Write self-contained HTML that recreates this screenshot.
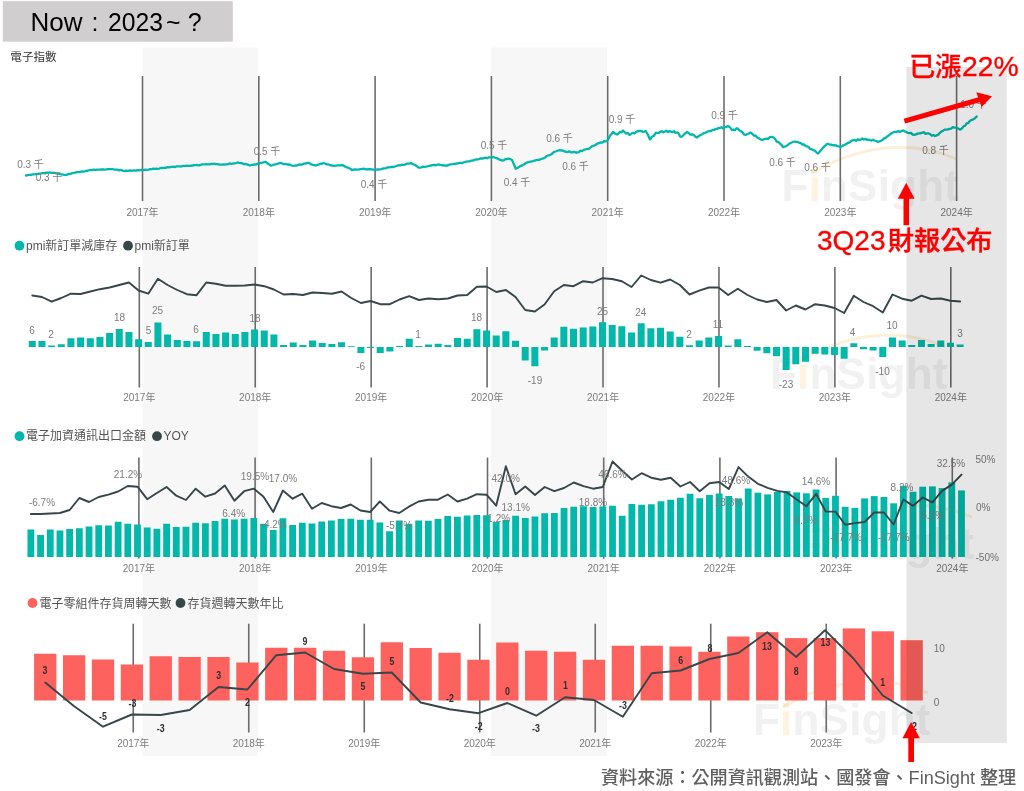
<!DOCTYPE html>
<html lang="zh-Hant"><head><meta charset="utf-8"><title>Now : 2023~ ?</title>
<style>
html,body{margin:0;padding:0;background:#fff;}
body{width:1024px;height:791px;overflow:hidden;}
svg{display:block;font-family:"Liberation Sans","Noto Sans CJK TC",sans-serif;}
</style></head><body>
<svg width="1024" height="791" viewBox="0 0 1024 791">
<rect x="142.5" y="47.5" width="115.4" height="708.5" fill="#f7f7f7"/>
<rect x="491" y="47.5" width="116" height="708.5" fill="#f7f7f7"/>
<rect x="2.8" y="1.2" width="230" height="40.5" fill="#d0cece"/>
<text id="title" y="30.9" font-size="25" fill="#000"><tspan x="30.5" textLength="52" lengthAdjust="spacingAndGlyphs">Now</tspan><tspan> </tspan><tspan x="91.4">:</tspan><tspan> </tspan><tspan x="108" textLength="55" lengthAdjust="spacingAndGlyphs">2023</tspan><tspan x="166" textLength="14.5" lengthAdjust="spacingAndGlyphs">~</tspan><tspan> </tspan><tspan x="187.7">?</tspan></text>
<text x="10.3" y="60.8" font-size="11.6" fill="#333" text-anchor="start">電子指數</text>
<g><text x="781.5" y="200.9" font-size="44" font-weight="bold" fill="#808080" fill-opacity="0.11" letter-spacing="0.2" text-anchor="start">F<tspan fill="#f5a623" fill-opacity="0.14">i</tspan>nSight</text><path d="M 811.5 172.9 Q 888.5 129.9 956.5 158.9" fill="none" stroke="#f5a623" stroke-opacity="0.17" stroke-width="3"/></g>
<g><text x="770" y="388.7" font-size="44" font-weight="bold" fill="#808080" fill-opacity="0.11" letter-spacing="0.2" text-anchor="start">F<tspan fill="#f5a623" fill-opacity="0.14">i</tspan>nSight</text><path d="M 800 360.7 Q 877 317.7 945 346.7" fill="none" stroke="#f5a623" stroke-opacity="0.17" stroke-width="3"/></g>
<g><text x="797" y="559" font-size="44" font-weight="bold" fill="#808080" fill-opacity="0.11" letter-spacing="0.2" text-anchor="start">F<tspan fill="#f5a623" fill-opacity="0.14">i</tspan>nSight</text><path d="M 827 531 Q 904 488 972 517" fill="none" stroke="#f5a623" stroke-opacity="0.17" stroke-width="3"/></g>
<g><text x="753" y="734.8" font-size="44" font-weight="bold" fill="#808080" fill-opacity="0.11" letter-spacing="0.2" text-anchor="start">F<tspan fill="#f5a623" fill-opacity="0.14">i</tspan>nSight</text><path d="M 783 706.8 Q 860 663.8 928 692.8" fill="none" stroke="#f5a623" stroke-opacity="0.17" stroke-width="3"/></g>
<line x1="142.5" y1="76" x2="142.5" y2="201" stroke="#6c6c6c" stroke-width="1.6"/>
<text x="142.5" y="216" font-size="10" fill="#7c7c7c" text-anchor="middle">2017年</text>
<line x1="258.8" y1="76" x2="258.8" y2="201" stroke="#6c6c6c" stroke-width="1.6"/>
<text x="258.8" y="216" font-size="10" fill="#7c7c7c" text-anchor="middle">2018年</text>
<line x1="375.1" y1="76" x2="375.1" y2="201" stroke="#6c6c6c" stroke-width="1.6"/>
<text x="375.1" y="216" font-size="10" fill="#7c7c7c" text-anchor="middle">2019年</text>
<line x1="491.4" y1="76" x2="491.4" y2="201" stroke="#6c6c6c" stroke-width="1.6"/>
<text x="491.4" y="216" font-size="10" fill="#7c7c7c" text-anchor="middle">2020年</text>
<line x1="607.7" y1="76" x2="607.7" y2="201" stroke="#6c6c6c" stroke-width="1.6"/>
<text x="607.7" y="216" font-size="10" fill="#7c7c7c" text-anchor="middle">2021年</text>
<line x1="724" y1="76" x2="724" y2="201" stroke="#6c6c6c" stroke-width="1.6"/>
<text x="724" y="216" font-size="10" fill="#7c7c7c" text-anchor="middle">2022年</text>
<line x1="840.3" y1="76" x2="840.3" y2="201" stroke="#6c6c6c" stroke-width="1.6"/>
<text x="840.3" y="216" font-size="10" fill="#7c7c7c" text-anchor="middle">2023年</text>
<line x1="956.6" y1="76" x2="956.6" y2="201" stroke="#6c6c6c" stroke-width="1.6"/>
<text x="956.6" y="216" font-size="10" fill="#7c7c7c" text-anchor="middle">2024年</text>
<polyline fill="none" stroke="#01b8aa" stroke-width="2.3" stroke-linejoin="round" stroke-linecap="round" points="26,175.5 27.64,175.19 29.29,174.89 30.93,174.94 32.57,174.42 34.21,174.45 35.86,174.14 37.5,174 39.06,173.56 40.62,173.63 42.19,173.18 43.75,173.21 45.31,172.82 46.88,172.64 48.44,172.64 50,172.5 51.6,172.9 53.2,172.67 54.8,172.93 56.4,173.38 58,173.5 59.75,174.14 61.5,174.29 63.25,174.56 65,175 66.67,174.87 68.33,173.99 70,174.04 71.67,173.35 73.33,172.89 75,172.7 76.59,172.22 78.18,172.09 79.77,172.16 81.36,171.52 82.95,171.52 84.55,171.31 86.14,170.9 87.73,170.77 89.32,170.22 90.91,169.98 92.5,170 94.04,169.72 95.58,169.97 97.12,169.72 98.65,169.56 100.19,169.68 101.73,169.51 103.27,169.32 104.81,169.59 106.35,169.45 107.88,169.05 109.42,169.21 110.96,169.09 112.5,169 114.06,169.53 115.62,169.67 117.19,169.59 118.75,170.35 120.31,169.97 121.88,170.44 123.44,170.94 125,171 126.59,170.68 128.18,170.81 129.77,170.42 131.36,170.75 132.95,170.72 134.55,170.5 136.14,170.61 137.73,170.15 139.32,170.31 140.91,170.15 142.5,170 144.04,169.9 145.58,169.66 147.12,169.78 148.65,169.7 150.19,169.21 151.73,169.19 153.27,168.62 154.81,168.91 156.35,168.72 157.88,168.81 159.42,168.53 160.96,168 162.5,168 164.06,167.77 165.62,167.84 167.19,167.2 168.75,167.4 170.31,167.03 171.88,166.84 173.44,166.66 175,167.06 176.56,166.42 178.12,166.37 179.69,166.34 181.25,166.56 182.81,165.81 184.38,165.95 185.94,165.88 187.5,165.7 189.06,165.92 190.62,165.76 192.19,165.69 193.75,165.09 195.31,165.1 196.88,164.94 198.44,165.28 200,165.24 201.56,164.45 203.12,164.36 204.69,164.31 206.25,164.2 207.81,164.31 209.38,164.29 210.94,163.91 212.5,164 214.06,163.62 215.62,164.05 217.19,164.07 218.75,164.31 220.31,164.72 221.88,164.55 223.44,164.45 225,164.5 226.56,164.35 228.12,164.16 229.69,163.36 231.25,163.85 232.81,163.5 234.38,163.33 235.94,163.01 237.5,162.5 239.06,162.77 240.62,163.15 242.19,163.25 243.75,164.13 245.31,163.96 246.88,164.34 248.44,164.85 250,165.5 251.5,164.96 253,164.86 254.5,164.37 256,164.5 257.67,163.64 259.33,163.36 261,162.9 262.67,162.71 264.33,162 266,162 267.67,163.6 269.33,164.58 271,165.7 272.67,164.95 274.33,164.59 276,164.22 277.67,163.79 279.33,163.13 281,163 282.56,163.7 284.12,164.21 285.69,164.09 287.25,164.48 288.81,164.49 290.38,164.88 291.94,165.48 293.5,166 295,165.5 296.5,165.67 298,164.82 299.5,164.4 301,164.88 302.5,164.22 304,163.61 305.5,163.64 307,162.91 308.5,163 310,163.53 311.5,164.45 313,164.84 314.5,165.18 316,165.5 317.5,164.8 319,164.39 320.5,163.72 322,163.73 323.5,163 325,163.53 326.5,164.26 328,164.34 329.5,164.74 331,165.5 332.57,165.69 334.14,165.77 335.71,165.59 337.29,165.47 338.86,165.41 340.43,165.28 342,165 343.67,165.6 345.33,166.68 347,167.37 348.67,167.93 350.33,168.76 352,170 353.64,169.66 355.29,169.46 356.93,169.58 358.57,169.58 360.21,169.03 361.86,169.19 363.5,168.7 365.14,169.25 366.79,169.41 368.43,169.16 370.07,169.24 371.71,169.43 373.36,169.59 375,170 376.6,169.49 378.2,169.49 379.8,169.38 381.4,169.04 383,168.49 384.6,168.31 386.2,168.11 387.8,167.31 389.4,167.41 391,167 392.54,167.02 394.08,166.61 395.62,166.28 397.15,165.75 398.69,165.2 400.23,165.39 401.77,164.71 403.31,164.78 404.85,164.61 406.38,163.84 407.92,163.54 409.46,163.67 411,163 412.5,164.11 414,164.49 415.5,165.35 417,166.27 418.5,167.5 420.04,167.59 421.58,167.28 423.12,166.53 424.65,166.83 426.19,166.72 427.73,166.24 429.27,165.77 430.81,165.69 432.35,165.13 433.88,164.81 435.42,165.33 436.96,164.85 438.5,164.5 440,164.72 441.5,165.28 443,165.04 444.5,165.63 446,165.5 447.59,165.5 449.18,164.71 450.77,164.47 452.36,164.23 453.95,163.92 455.55,163.94 457.14,163.39 458.73,163.25 460.32,162.73 461.91,163.12 463.5,162.5 465.06,161.99 466.62,161.71 468.19,161.45 469.75,161.38 471.31,160.55 472.88,160.65 474.44,159.88 476,159.5 477.59,159.31 479.18,159.07 480.77,158.31 482.36,158.53 483.95,158.03 485.55,157.62 487.14,158.22 488.73,157.34 490.32,157.43 491.91,157.46 493.5,157 495.2,157.76 496.9,158.2 498.6,159.12 500.3,159.86 502,160.5 503.62,160.34 505.25,159.2 506.88,159.21 508.5,158.7 510.25,159.08 512,160 513.85,164.12 515.7,168.7 517.31,168.02 518.93,166.93 520.54,166.09 522.16,165.35 523.77,164.58 525.39,163.34 527,162.5 528.5,162.23 530,161.75 531.5,161.37 533,161.16 534.5,160.55 536,160.25 537.5,159.82 539,159.88 540.5,159.27 542,158.7 543.6,158.29 545.2,157.54 546.8,155.98 548.4,155.48 550,155.08 551.6,154.15 553.2,152.57 554.8,151.73 556.4,151.26 558,150.5 559.61,150.1 561.22,150.51 562.83,150.47 564.44,151.46 566.05,151.79 567.65,152.13 569.26,151.31 570.87,152.25 572.48,152.35 574.09,151.84 575.7,152.5 577.31,152.49 578.93,152.1 580.54,150.64 582.16,151.08 583.77,149.87 585.39,149.48 587,149 588.56,148.94 590.12,147.97 591.69,146.28 593.25,145.9 594.81,145.27 596.38,144.27 597.94,143.32 599.5,143 601,142.31 602.5,142.56 604,141.03 605.5,141.49 607,141 608.5,138.65 610,135.7 611.5,133.97 613,132 615,133.49 617,134.5 618.5,133.52 620,131.68 621.5,132.41 623,130.5 624.62,132.2 626.25,133.69 627.88,133.08 629.5,135 631.17,133.9 632.83,132.81 634.5,133.52 636.17,131.9 637.83,130.98 639.5,131 641.05,130.84 642.6,131.82 644.15,131.64 645.7,131 647.85,134.77 650,139.5 651.9,136.73 653.8,135.89 655.7,133 657.23,132.91 658.77,132.94 660.3,131.54 661.83,131.26 663.37,132.25 664.9,131.52 666.43,130.62 667.97,132.07 669.5,131 671,131.57 672.5,132.2 674,131.07 675.5,132.91 677,132.5 678.5,133.15 680,136.21 681.5,137 683.33,135.25 685.17,133.38 687,132 688.67,133.02 690.33,134.67 692,134.29 693.67,134.94 695.33,136.64 697,137.5 698.56,136.22 700.12,135.18 701.69,134.46 703.25,133.45 704.81,132.91 706.38,132.29 707.94,131.46 709.5,131 711,131.17 712.5,129.88 714,129.95 715.5,128.96 717,128.94 718.5,127.94 720,128.05 721.5,127.23 723,128.32 724.5,127.5 726.25,126.85 728,126 730,127.38 732,130 733.5,129.62 735,130.22 736.5,128.24 738,128.7 739.54,130.6 741.08,131.08 742.62,132.47 744.16,134.41 745.7,135 747.37,133.97 749.03,133.35 750.7,132.5 752.31,133.94 753.93,135.58 755.54,135.41 757.16,137.43 758.77,138.26 760.39,139.19 762,140 763.67,139.4 765.33,138.87 767,138.7 768,138.8 770,137.02 772,136.8 773.57,137.59 775.14,138.94 776.71,141.61 778.29,142.19 779.86,143.48 781.43,144.79 783,147 784.63,146.71 786.26,145.97 787.89,144.89 789.51,143.54 791.14,142.69 792.77,141.98 794.4,141.5 796,141.9 797.6,141.87 799.2,142.81 800.8,142.98 802.4,144.6 804,144.3 805.56,146.06 807.11,146.42 808.67,146.97 810.22,149.11 811.78,149.11 813.33,150.21 814.89,150.68 816.44,152.29 818,153.5 819.68,151.63 821.36,149.82 823.04,147.61 824.72,146.15 826.4,144.3 827.94,143.83 829.49,144.53 831.03,144.56 832.58,145.34 834.12,145.09 835.67,145.36 837.21,146.1 838.76,146.28 840.3,147 841.9,146.23 843.5,145.24 845.1,144.67 846.7,143.63 848.3,142.82 849.9,142.16 851.5,140.7 853.04,140.3 854.59,139.99 856.13,140.88 857.68,139.27 859.22,140.02 860.77,139.67 862.31,138.46 863.86,139.57 865.4,138.8 866.94,139.78 868.49,139.62 870.03,140.11 871.58,140.54 873.12,139.67 874.67,140.64 876.21,140.91 877.76,141.78 879.3,141.5 880.89,140.93 882.47,139.9 884.06,138.42 885.64,137.86 887.23,136.44 888.81,135.39 890.4,134 891.98,133.04 893.55,132.21 895.12,131.95 896.7,131.94 898.27,131 899.85,131.94 901.42,130.96 903,130.4 904.62,131.36 906.23,132.05 907.85,132.86 909.47,133.18 911.08,132.91 912.7,134.6 914.32,134.83 915.93,134.4 917.55,133.61 919.17,133.33 920.78,133.23 922.4,132.6 923.98,132.18 925.55,133.91 927.12,133.39 928.7,133.47 930.27,134.27 931.85,135.6 933.42,135 935,136 936.62,135.37 938.23,134.74 939.85,132.79 941.47,131.52 943.08,130.63 944.7,129.6 946.32,129.63 947.93,129.47 949.55,128.83 951.17,128.55 952.78,127.09 954.4,127.6 956.27,127.56 958.13,128.44 960,129.6 961.66,128.77 963.32,126.57 964.98,125.78 966.64,123.34 968.3,123 969.98,120.82 971.66,119.94 973.34,119.44 975.02,118.18 976.7,116.5"/>
<text x="30.5" y="167.5" font-size="10" fill="#7c7c7c" text-anchor="middle">0.3 千</text>
<text x="49" y="180.5" font-size="10" fill="#7c7c7c" text-anchor="middle">0.3 千</text>
<text x="267" y="154.5" font-size="10" fill="#7c7c7c" text-anchor="middle">0.5 千</text>
<text x="374" y="187.5" font-size="10" fill="#7c7c7c" text-anchor="middle">0.4 千</text>
<text x="494" y="148.5" font-size="10" fill="#7c7c7c" text-anchor="middle">0.5 千</text>
<text x="517" y="186" font-size="10" fill="#7c7c7c" text-anchor="middle">0.4 千</text>
<text x="559.5" y="142" font-size="10" fill="#7c7c7c" text-anchor="middle">0.6 千</text>
<text x="575.5" y="169.5" font-size="10" fill="#7c7c7c" text-anchor="middle">0.6 千</text>
<text x="622" y="122.5" font-size="10" fill="#7c7c7c" text-anchor="middle">0.9 千</text>
<text x="724.5" y="118.5" font-size="10" fill="#7c7c7c" text-anchor="middle">0.9 千</text>
<text x="782.5" y="166" font-size="10" fill="#7c7c7c" text-anchor="middle">0.6 千</text>
<text x="817.5" y="170.5" font-size="10" fill="#7c7c7c" text-anchor="middle">0.6 千</text>
<text x="935.5" y="153.5" font-size="10" fill="#7c7c7c" text-anchor="middle">0.8 千</text>
<text x="973.5" y="107.5" font-size="10" fill="#7c7c7c" text-anchor="middle">1.0 千</text>
<circle cx="19.5" cy="245.7" r="4.9" fill="#01b8aa"/>
<text x="26" y="249.7" font-size="12" fill="#555" text-anchor="start">pmi新訂單減庫存</text>
<circle cx="128" cy="245.7" r="4.9" fill="#374649"/>
<text x="134.5" y="249.7" font-size="12" fill="#555" text-anchor="start">pmi新訂單</text>
<line x1="139.3" y1="267" x2="139.3" y2="387.5" stroke="#6c6c6c" stroke-width="1.6"/>
<text x="139.3" y="401" font-size="10" fill="#7c7c7c" text-anchor="middle">2017年</text>
<line x1="255.23" y1="267" x2="255.23" y2="387.5" stroke="#6c6c6c" stroke-width="1.6"/>
<text x="255.23" y="401" font-size="10" fill="#7c7c7c" text-anchor="middle">2018年</text>
<line x1="371.16" y1="267" x2="371.16" y2="387.5" stroke="#6c6c6c" stroke-width="1.6"/>
<text x="371.16" y="401" font-size="10" fill="#7c7c7c" text-anchor="middle">2019年</text>
<line x1="487.09" y1="267" x2="487.09" y2="387.5" stroke="#6c6c6c" stroke-width="1.6"/>
<text x="487.09" y="401" font-size="10" fill="#7c7c7c" text-anchor="middle">2020年</text>
<line x1="603.02" y1="267" x2="603.02" y2="387.5" stroke="#6c6c6c" stroke-width="1.6"/>
<text x="603.02" y="401" font-size="10" fill="#7c7c7c" text-anchor="middle">2021年</text>
<line x1="718.95" y1="267" x2="718.95" y2="387.5" stroke="#6c6c6c" stroke-width="1.6"/>
<text x="718.95" y="401" font-size="10" fill="#7c7c7c" text-anchor="middle">2022年</text>
<line x1="834.88" y1="267" x2="834.88" y2="387.5" stroke="#6c6c6c" stroke-width="1.6"/>
<text x="834.88" y="401" font-size="10" fill="#7c7c7c" text-anchor="middle">2023年</text>
<line x1="950.81" y1="267" x2="950.81" y2="387.5" stroke="#6c6c6c" stroke-width="1.6"/>
<text x="950.81" y="401" font-size="10" fill="#7c7c7c" text-anchor="middle">2024年</text>
<rect x="28.78" y="341" width="7" height="6" fill="#01b8aa"/>
<rect x="38.45" y="341" width="7" height="6" fill="#01b8aa"/>
<rect x="48.12" y="345.5" width="7" height="1.5" fill="#01b8aa"/>
<rect x="57.78" y="344.25" width="7" height="2.75" fill="#01b8aa"/>
<rect x="67.44" y="338.25" width="7" height="8.75" fill="#01b8aa"/>
<rect x="77.11" y="337.5" width="7" height="9.5" fill="#01b8aa"/>
<rect x="86.78" y="338.25" width="7" height="8.75" fill="#01b8aa"/>
<rect x="96.44" y="337" width="7" height="10" fill="#01b8aa"/>
<rect x="106.1" y="333" width="7" height="14" fill="#01b8aa"/>
<rect x="115.77" y="329" width="7" height="18" fill="#01b8aa"/>
<rect x="125.44" y="332" width="7" height="15" fill="#01b8aa"/>
<rect x="135.1" y="339.25" width="7" height="7.75" fill="#01b8aa"/>
<rect x="144.76" y="342" width="7" height="5" fill="#01b8aa"/>
<rect x="154.43" y="322.5" width="7" height="24.5" fill="#01b8aa"/>
<rect x="164.09" y="334.5" width="7" height="12.5" fill="#01b8aa"/>
<rect x="173.76" y="340" width="7" height="7" fill="#01b8aa"/>
<rect x="183.42" y="341" width="7" height="6" fill="#01b8aa"/>
<rect x="193.09" y="341.25" width="7" height="5.75" fill="#01b8aa"/>
<rect x="202.75" y="332" width="7" height="15" fill="#01b8aa"/>
<rect x="212.42" y="334" width="7" height="13" fill="#01b8aa"/>
<rect x="222.08" y="332.5" width="7" height="14.5" fill="#01b8aa"/>
<rect x="231.75" y="334" width="7" height="13" fill="#01b8aa"/>
<rect x="241.41" y="332" width="7" height="15" fill="#01b8aa"/>
<rect x="251.08" y="329.5" width="7" height="17.5" fill="#01b8aa"/>
<rect x="260.75" y="330.5" width="7" height="16.5" fill="#01b8aa"/>
<rect x="270.41" y="334.5" width="7" height="12.5" fill="#01b8aa"/>
<rect x="280.07" y="345" width="7" height="2" fill="#01b8aa"/>
<rect x="289.74" y="342.5" width="7" height="4.5" fill="#01b8aa"/>
<rect x="299.4" y="345" width="7" height="2" fill="#01b8aa"/>
<rect x="309.07" y="340.5" width="7" height="6.5" fill="#01b8aa"/>
<rect x="318.74" y="343" width="7" height="4" fill="#01b8aa"/>
<rect x="328.4" y="344" width="7" height="3" fill="#01b8aa"/>
<rect x="338.06" y="342.25" width="7" height="4.75" fill="#01b8aa"/>
<rect x="347.73" y="346.2" width="7" height="0.8" fill="#01b8aa"/>
<rect x="357.39" y="347" width="7" height="6" fill="#01b8aa"/>
<rect x="367.06" y="347" width="7" height="1" fill="#01b8aa"/>
<rect x="376.72" y="347" width="7" height="6" fill="#01b8aa"/>
<rect x="386.39" y="347" width="7" height="4.5" fill="#01b8aa"/>
<rect x="396.05" y="346" width="7" height="1" fill="#01b8aa"/>
<rect x="405.72" y="338.75" width="7" height="8.25" fill="#01b8aa"/>
<rect x="415.38" y="346" width="7" height="1" fill="#01b8aa"/>
<rect x="425.05" y="344.5" width="7" height="2.5" fill="#01b8aa"/>
<rect x="434.71" y="343.75" width="7" height="3.25" fill="#01b8aa"/>
<rect x="444.38" y="345" width="7" height="2" fill="#01b8aa"/>
<rect x="454.04" y="338" width="7" height="9" fill="#01b8aa"/>
<rect x="463.71" y="338.75" width="7" height="8.25" fill="#01b8aa"/>
<rect x="473.38" y="329.25" width="7" height="17.75" fill="#01b8aa"/>
<rect x="483.04" y="330.5" width="7" height="16.5" fill="#01b8aa"/>
<rect x="492.7" y="335.5" width="7" height="11.5" fill="#01b8aa"/>
<rect x="502.37" y="331.25" width="7" height="15.75" fill="#01b8aa"/>
<rect x="512.03" y="340.75" width="7" height="6.25" fill="#01b8aa"/>
<rect x="521.7" y="347" width="7" height="13.5" fill="#01b8aa"/>
<rect x="531.37" y="347" width="7" height="19.25" fill="#01b8aa"/>
<rect x="541.03" y="347" width="7" height="3.5" fill="#01b8aa"/>
<rect x="550.69" y="337.5" width="7" height="9.5" fill="#01b8aa"/>
<rect x="560.36" y="326.75" width="7" height="20.25" fill="#01b8aa"/>
<rect x="570.02" y="328.75" width="7" height="18.25" fill="#01b8aa"/>
<rect x="579.69" y="327.5" width="7" height="19.5" fill="#01b8aa"/>
<rect x="589.35" y="326.5" width="7" height="20.5" fill="#01b8aa"/>
<rect x="599.02" y="322.25" width="7" height="24.75" fill="#01b8aa"/>
<rect x="608.68" y="325" width="7" height="22" fill="#01b8aa"/>
<rect x="618.35" y="326.25" width="7" height="20.75" fill="#01b8aa"/>
<rect x="628.01" y="332.5" width="7" height="14.5" fill="#01b8aa"/>
<rect x="637.68" y="323.25" width="7" height="23.75" fill="#01b8aa"/>
<rect x="647.35" y="328.25" width="7" height="18.75" fill="#01b8aa"/>
<rect x="657.01" y="327.75" width="7" height="19.25" fill="#01b8aa"/>
<rect x="666.67" y="331.5" width="7" height="15.5" fill="#01b8aa"/>
<rect x="676.34" y="336.75" width="7" height="10.25" fill="#01b8aa"/>
<rect x="686" y="345.25" width="7" height="1.75" fill="#01b8aa"/>
<rect x="695.67" y="340.5" width="7" height="6.5" fill="#01b8aa"/>
<rect x="705.33" y="337.5" width="7" height="9.5" fill="#01b8aa"/>
<rect x="715" y="336" width="7" height="11" fill="#01b8aa"/>
<rect x="724.66" y="345.5" width="7" height="1.5" fill="#01b8aa"/>
<rect x="734.33" y="339.25" width="7" height="7.75" fill="#01b8aa"/>
<rect x="744" y="346" width="7" height="1" fill="#01b8aa"/>
<rect x="753.66" y="347" width="7" height="3.75" fill="#01b8aa"/>
<rect x="763.32" y="347" width="7" height="6.25" fill="#01b8aa"/>
<rect x="772.99" y="347" width="7" height="9.25" fill="#01b8aa"/>
<rect x="782.65" y="347" width="7" height="23" fill="#01b8aa"/>
<rect x="792.32" y="347" width="7" height="17.25" fill="#01b8aa"/>
<rect x="801.99" y="347" width="7" height="14.75" fill="#01b8aa"/>
<rect x="811.65" y="347" width="7" height="6.75" fill="#01b8aa"/>
<rect x="821.31" y="347" width="7" height="7.5" fill="#01b8aa"/>
<rect x="830.98" y="347" width="7" height="8" fill="#01b8aa"/>
<rect x="840.64" y="347" width="7" height="11.75" fill="#01b8aa"/>
<rect x="850.31" y="343.25" width="7" height="3.75" fill="#01b8aa"/>
<rect x="859.97" y="347" width="7" height="2.25" fill="#01b8aa"/>
<rect x="869.64" y="347" width="7" height="3.5" fill="#01b8aa"/>
<rect x="879.3" y="347" width="7" height="10" fill="#01b8aa"/>
<rect x="888.97" y="337.5" width="7" height="9.5" fill="#01b8aa"/>
<rect x="898.63" y="340.5" width="7" height="6.5" fill="#01b8aa"/>
<rect x="908.3" y="345" width="7" height="2" fill="#01b8aa"/>
<rect x="917.96" y="340" width="7" height="7" fill="#01b8aa"/>
<rect x="927.63" y="344" width="7" height="3" fill="#01b8aa"/>
<rect x="937.29" y="340.5" width="7" height="6.5" fill="#01b8aa"/>
<rect x="946.96" y="342.75" width="7" height="4.25" fill="#01b8aa"/>
<rect x="956.62" y="344.5" width="7" height="2.5" fill="#01b8aa"/>
<polyline fill="none" stroke="#374649" stroke-width="1.9" stroke-linejoin="round" stroke-linecap="round" points="32.28,295.5 41.95,297 51.62,301.7 61.28,298 70.94,293.7 80.61,294 90.28,291.5 99.94,289.2 109.6,287.5 119.27,285 128.94,282.5 138.6,290.5 148.26,293.7 157.93,278.7 167.59,285 177.26,290 186.92,294.2 196.59,295.2 206.25,282.5 215.92,283.7 225.58,285.7 235.25,285.7 244.91,285.5 254.58,284.5 264.25,286.2 273.91,289.5 283.57,294.5 293.24,294 302.9,295 312.57,292.5 322.24,293 331.9,293.7 341.56,291.5 351.23,298 360.89,303 370.56,301 380.22,304.2 389.89,304.2 399.55,299.5 409.22,296.2 418.88,300 428.55,298.5 438.21,299.2 447.88,298.5 457.54,295.5 467.21,295 476.88,286.7 486.54,286.5 496.2,292 505.87,290 515.53,297 525.2,310 534.87,311.5 544.53,304.5 554.19,291.2 563.86,285 573.52,286.2 583.19,281.2 592.85,282.5 602.52,278.2 612.18,279 621.85,281.2 631.51,287 641.18,275.5 650.85,280 660.51,282.7 670.17,279.5 679.84,285 689.5,294.5 699.17,290.7 708.83,287.5 718.5,287.5 728.16,295 737.83,288.7 747.5,295 757.16,299.5 766.82,302 776.49,300 786.15,310.5 795.82,305.5 805.49,309.5 815.15,304.2 824.81,305.5 834.48,308 844.14,313 853.81,295.7 863.47,302 873.14,306.2 882.8,312.5 892.47,294.5 902.13,298.7 911.8,300.7 921.46,295.7 931.13,299 940.79,298.5 950.46,300.7 960.12,301.5"/>
<text x="32" y="333.5" font-size="10" fill="#7c7c7c" text-anchor="middle">6</text>
<text x="51" y="337.5" font-size="10" fill="#7c7c7c" text-anchor="middle">2</text>
<text x="119.5" y="321" font-size="10" fill="#7c7c7c" text-anchor="middle">18</text>
<text x="148.5" y="333.5" font-size="10" fill="#7c7c7c" text-anchor="middle">5</text>
<text x="157.5" y="314" font-size="10" fill="#7c7c7c" text-anchor="middle">25</text>
<text x="196" y="332.5" font-size="10" fill="#7c7c7c" text-anchor="middle">6</text>
<text x="255" y="321.5" font-size="10" fill="#7c7c7c" text-anchor="middle">18</text>
<text x="360.7" y="369.5" font-size="10" fill="#7c7c7c" text-anchor="middle">-6</text>
<text x="418" y="338" font-size="10" fill="#7c7c7c" text-anchor="middle">1</text>
<text x="476.5" y="320.5" font-size="10" fill="#7c7c7c" text-anchor="middle">18</text>
<text x="535" y="383.5" font-size="10" fill="#7c7c7c" text-anchor="middle">-19</text>
<text x="602.5" y="314.5" font-size="10" fill="#7c7c7c" text-anchor="middle">25</text>
<text x="640.7" y="315.5" font-size="10" fill="#7c7c7c" text-anchor="middle">24</text>
<text x="689" y="338" font-size="10" fill="#7c7c7c" text-anchor="middle">2</text>
<text x="718" y="328" font-size="10" fill="#7c7c7c" text-anchor="middle">11</text>
<text x="786" y="388" font-size="10" fill="#7c7c7c" text-anchor="middle">-23</text>
<text x="852.5" y="335.5" font-size="10" fill="#7c7c7c" text-anchor="middle">4</text>
<text x="882.5" y="374.5" font-size="10" fill="#7c7c7c" text-anchor="middle">-10</text>
<text x="892" y="329" font-size="10" fill="#7c7c7c" text-anchor="middle">10</text>
<text x="960" y="336.5" font-size="10" fill="#7c7c7c" text-anchor="middle">3</text>
<circle cx="19.5" cy="436.2" r="4.9" fill="#01b8aa"/>
<text x="26" y="440.2" font-size="12" fill="#555" text-anchor="start">電子加資通訊出口金額</text>
<circle cx="157" cy="436.2" r="4.9" fill="#374649"/>
<text x="163.5" y="440.2" font-size="12" fill="#555" text-anchor="start">YOY</text>
<line x1="138.9" y1="457.5" x2="138.9" y2="558.6" stroke="#6c6c6c" stroke-width="1.6"/>
<text x="138.9" y="571.5" font-size="10" fill="#7c7c7c" text-anchor="middle">2017年</text>
<line x1="255.1" y1="457.5" x2="255.1" y2="558.6" stroke="#6c6c6c" stroke-width="1.6"/>
<text x="255.1" y="571.5" font-size="10" fill="#7c7c7c" text-anchor="middle">2018年</text>
<line x1="371.3" y1="457.5" x2="371.3" y2="558.6" stroke="#6c6c6c" stroke-width="1.6"/>
<text x="371.3" y="571.5" font-size="10" fill="#7c7c7c" text-anchor="middle">2019年</text>
<line x1="487.5" y1="457.5" x2="487.5" y2="558.6" stroke="#6c6c6c" stroke-width="1.6"/>
<text x="487.5" y="571.5" font-size="10" fill="#7c7c7c" text-anchor="middle">2020年</text>
<line x1="603.7" y1="457.5" x2="603.7" y2="558.6" stroke="#6c6c6c" stroke-width="1.6"/>
<text x="603.7" y="571.5" font-size="10" fill="#7c7c7c" text-anchor="middle">2021年</text>
<line x1="719.9" y1="457.5" x2="719.9" y2="558.6" stroke="#6c6c6c" stroke-width="1.6"/>
<text x="719.9" y="571.5" font-size="10" fill="#7c7c7c" text-anchor="middle">2022年</text>
<line x1="836.1" y1="457.5" x2="836.1" y2="558.6" stroke="#6c6c6c" stroke-width="1.6"/>
<text x="836.1" y="571.5" font-size="10" fill="#7c7c7c" text-anchor="middle">2023年</text>
<line x1="952.3" y1="457.5" x2="952.3" y2="558.6" stroke="#6c6c6c" stroke-width="1.6"/>
<text x="952.3" y="571.5" font-size="10" fill="#7c7c7c" text-anchor="middle">2024年</text>
<rect x="27.47" y="529.5" width="6.8" height="27.5" fill="#01b8aa"/>
<rect x="37.16" y="535" width="6.8" height="22" fill="#01b8aa"/>
<rect x="46.85" y="529.5" width="6.8" height="27.5" fill="#01b8aa"/>
<rect x="56.55" y="530.5" width="6.8" height="26.5" fill="#01b8aa"/>
<rect x="66.24" y="529" width="6.8" height="28" fill="#01b8aa"/>
<rect x="75.94" y="528.25" width="6.8" height="28.75" fill="#01b8aa"/>
<rect x="85.63" y="526.5" width="6.8" height="30.5" fill="#01b8aa"/>
<rect x="95.32" y="525.25" width="6.8" height="31.75" fill="#01b8aa"/>
<rect x="105.02" y="525.5" width="6.8" height="31.5" fill="#01b8aa"/>
<rect x="114.71" y="521.75" width="6.8" height="35.25" fill="#01b8aa"/>
<rect x="124.41" y="523.75" width="6.8" height="33.25" fill="#01b8aa"/>
<rect x="134.1" y="524.5" width="6.8" height="32.5" fill="#01b8aa"/>
<rect x="143.79" y="527.5" width="6.8" height="29.5" fill="#01b8aa"/>
<rect x="153.49" y="528.75" width="6.8" height="28.25" fill="#01b8aa"/>
<rect x="163.18" y="523.75" width="6.8" height="33.25" fill="#01b8aa"/>
<rect x="172.88" y="527" width="6.8" height="30" fill="#01b8aa"/>
<rect x="182.57" y="526.75" width="6.8" height="30.25" fill="#01b8aa"/>
<rect x="192.26" y="522.75" width="6.8" height="34.25" fill="#01b8aa"/>
<rect x="201.96" y="523.25" width="6.8" height="33.75" fill="#01b8aa"/>
<rect x="211.65" y="521" width="6.8" height="36" fill="#01b8aa"/>
<rect x="221.35" y="518.75" width="6.8" height="38.25" fill="#01b8aa"/>
<rect x="231.04" y="519.5" width="6.8" height="37.5" fill="#01b8aa"/>
<rect x="240.73" y="518.75" width="6.8" height="38.25" fill="#01b8aa"/>
<rect x="250.43" y="518" width="6.8" height="39" fill="#01b8aa"/>
<rect x="260.12" y="523.75" width="6.8" height="33.25" fill="#01b8aa"/>
<rect x="269.82" y="530" width="6.8" height="27" fill="#01b8aa"/>
<rect x="279.51" y="518.25" width="6.8" height="38.75" fill="#01b8aa"/>
<rect x="289.2" y="525" width="6.8" height="32" fill="#01b8aa"/>
<rect x="298.9" y="522.75" width="6.8" height="34.25" fill="#01b8aa"/>
<rect x="308.59" y="523.5" width="6.8" height="33.5" fill="#01b8aa"/>
<rect x="318.29" y="521.5" width="6.8" height="35.5" fill="#01b8aa"/>
<rect x="327.98" y="520.5" width="6.8" height="36.5" fill="#01b8aa"/>
<rect x="337.67" y="519" width="6.8" height="38" fill="#01b8aa"/>
<rect x="347.37" y="518.75" width="6.8" height="38.25" fill="#01b8aa"/>
<rect x="357.06" y="519.75" width="6.8" height="37.25" fill="#01b8aa"/>
<rect x="366.76" y="519.75" width="6.8" height="37.25" fill="#01b8aa"/>
<rect x="376.45" y="522.5" width="6.8" height="34.5" fill="#01b8aa"/>
<rect x="386.14" y="531.25" width="6.8" height="25.75" fill="#01b8aa"/>
<rect x="395.84" y="520.5" width="6.8" height="36.5" fill="#01b8aa"/>
<rect x="405.53" y="523.75" width="6.8" height="33.25" fill="#01b8aa"/>
<rect x="415.23" y="520.5" width="6.8" height="36.5" fill="#01b8aa"/>
<rect x="424.92" y="520.75" width="6.8" height="36.25" fill="#01b8aa"/>
<rect x="434.61" y="519" width="6.8" height="38" fill="#01b8aa"/>
<rect x="444.31" y="516" width="6.8" height="41" fill="#01b8aa"/>
<rect x="454" y="516.75" width="6.8" height="40.25" fill="#01b8aa"/>
<rect x="463.7" y="515.5" width="6.8" height="41.5" fill="#01b8aa"/>
<rect x="473.39" y="515" width="6.8" height="42" fill="#01b8aa"/>
<rect x="483.08" y="515.25" width="6.8" height="41.75" fill="#01b8aa"/>
<rect x="492.78" y="522" width="6.8" height="35" fill="#01b8aa"/>
<rect x="502.47" y="520" width="6.8" height="37" fill="#01b8aa"/>
<rect x="512.17" y="515.75" width="6.8" height="41.25" fill="#01b8aa"/>
<rect x="521.86" y="518" width="6.8" height="39" fill="#01b8aa"/>
<rect x="531.55" y="516.5" width="6.8" height="40.5" fill="#01b8aa"/>
<rect x="541.25" y="513.25" width="6.8" height="43.75" fill="#01b8aa"/>
<rect x="550.94" y="513" width="6.8" height="44" fill="#01b8aa"/>
<rect x="560.64" y="508" width="6.8" height="49" fill="#01b8aa"/>
<rect x="570.33" y="506.75" width="6.8" height="50.25" fill="#01b8aa"/>
<rect x="580.02" y="506.25" width="6.8" height="50.75" fill="#01b8aa"/>
<rect x="589.72" y="507" width="6.8" height="50" fill="#01b8aa"/>
<rect x="599.41" y="506.5" width="6.8" height="50.5" fill="#01b8aa"/>
<rect x="609.11" y="505.75" width="6.8" height="51.25" fill="#01b8aa"/>
<rect x="618.8" y="515.75" width="6.8" height="41.25" fill="#01b8aa"/>
<rect x="628.49" y="504" width="6.8" height="53" fill="#01b8aa"/>
<rect x="638.19" y="504.75" width="6.8" height="52.25" fill="#01b8aa"/>
<rect x="647.88" y="504.25" width="6.8" height="52.75" fill="#01b8aa"/>
<rect x="657.58" y="501.25" width="6.8" height="55.75" fill="#01b8aa"/>
<rect x="667.27" y="499.75" width="6.8" height="57.25" fill="#01b8aa"/>
<rect x="676.96" y="497.75" width="6.8" height="59.25" fill="#01b8aa"/>
<rect x="686.66" y="493.75" width="6.8" height="63.25" fill="#01b8aa"/>
<rect x="696.35" y="498.25" width="6.8" height="58.75" fill="#01b8aa"/>
<rect x="706.05" y="495" width="6.8" height="62" fill="#01b8aa"/>
<rect x="715.74" y="493.5" width="6.8" height="63.5" fill="#01b8aa"/>
<rect x="725.43" y="496" width="6.8" height="61" fill="#01b8aa"/>
<rect x="735.13" y="498.5" width="6.8" height="58.5" fill="#01b8aa"/>
<rect x="744.82" y="488.5" width="6.8" height="68.5" fill="#01b8aa"/>
<rect x="754.52" y="492.7" width="6.8" height="64.3" fill="#01b8aa"/>
<rect x="764.21" y="494.4" width="6.8" height="62.6" fill="#01b8aa"/>
<rect x="773.9" y="491.8" width="6.8" height="65.2" fill="#01b8aa"/>
<rect x="783.6" y="491" width="6.8" height="66" fill="#01b8aa"/>
<rect x="793.29" y="492.4" width="6.8" height="64.6" fill="#01b8aa"/>
<rect x="802.99" y="493.3" width="6.8" height="63.7" fill="#01b8aa"/>
<rect x="812.68" y="489.5" width="6.8" height="67.5" fill="#01b8aa"/>
<rect x="822.37" y="497.9" width="6.8" height="59.1" fill="#01b8aa"/>
<rect x="832.07" y="495.8" width="6.8" height="61.2" fill="#01b8aa"/>
<rect x="841.76" y="506.8" width="6.8" height="50.2" fill="#01b8aa"/>
<rect x="851.46" y="507.9" width="6.8" height="49.1" fill="#01b8aa"/>
<rect x="861.15" y="498.4" width="6.8" height="58.6" fill="#01b8aa"/>
<rect x="870.84" y="496.1" width="6.8" height="60.9" fill="#01b8aa"/>
<rect x="880.54" y="497" width="6.8" height="60" fill="#01b8aa"/>
<rect x="890.23" y="503.3" width="6.8" height="53.7" fill="#01b8aa"/>
<rect x="899.93" y="485.8" width="6.8" height="71.2" fill="#01b8aa"/>
<rect x="909.62" y="491.8" width="6.8" height="65.2" fill="#01b8aa"/>
<rect x="919.31" y="486.7" width="6.8" height="70.3" fill="#01b8aa"/>
<rect x="929.01" y="486.4" width="6.8" height="70.6" fill="#01b8aa"/>
<rect x="938.7" y="488.1" width="6.8" height="68.9" fill="#01b8aa"/>
<rect x="948.4" y="482.4" width="6.8" height="74.6" fill="#01b8aa"/>
<rect x="958.09" y="490.4" width="6.8" height="66.6" fill="#01b8aa"/>
<polyline fill="none" stroke="#374649" stroke-width="1.9" stroke-linejoin="round" stroke-linecap="round" points="30.87,514 40.56,514 50.25,513.5 59.95,513 69.64,510 79.34,498 89.03,502 98.72,497 108.42,494.7 118.11,491.5 127.81,486 137.5,486.7 147.19,499.2 156.89,493 166.58,487 176.28,495.7 185.97,500 195.66,488.7 205.36,496.7 215.05,493.5 224.75,485.5 234.44,500.7 244.13,491.2 253.83,488.7 263.52,496.7 273.22,512 282.91,490.5 292.6,498.7 302.3,493.7 311.99,508.7 321.69,503 331.38,506.2 341.07,508 350.77,504.5 360.46,510.5 370.16,512 379.85,501.5 389.54,510.7 399.24,513 408.93,506.7 418.63,501.5 428.32,499.7 438.01,499.7 447.71,494.5 457.4,501.5 467.1,498.7 476.79,494.2 486.48,494.7 496.18,505.7 505.87,466.2 515.57,494.2 525.26,486.5 534.95,495 544.65,487 554.34,491.2 564.04,488 573.73,482.5 583.42,486.2 593.12,488.7 602.81,487 612.51,461.5 622.2,470.7 631.89,479.5 641.59,473.2 651.28,477.7 660.98,479.7 670.67,477.7 680.36,486.5 690.06,482 699.75,491.2 709.45,483.2 719.14,482 728.83,489 738.53,467.1 748.22,476.6 757.92,483.8 767.61,487.8 777.3,490.9 787,492.4 796.69,499.5 806.39,506.2 816.08,493.8 825.77,511.6 835.47,511.6 845.16,524.8 854.86,523.1 864.55,522 874.24,512.5 883.94,512.5 893.63,524.5 903.33,499.5 913.02,505.9 922.71,497.5 932.41,502.4 942.1,490.9 951.8,484.6 961.49,474.6"/>
<text x="42" y="505.7" font-size="10" fill="#7c7c7c" text-anchor="middle">-6.7%</text>
<text x="128" y="478.2" font-size="10" fill="#7c7c7c" text-anchor="middle">21.2%</text>
<text x="233.7" y="516.7" font-size="10" fill="#7c7c7c" text-anchor="middle">6.4%</text>
<text x="255" y="479.7" font-size="10" fill="#7c7c7c" text-anchor="middle">19.5%</text>
<text x="283" y="481.7" font-size="10" fill="#7c7c7c" text-anchor="middle">17.0%</text>
<text x="273.7" y="528.2" font-size="10" fill="#7c7c7c" text-anchor="middle">-4.2%</text>
<text x="399" y="529.2" font-size="10" fill="#7c7c7c" text-anchor="middle">-5.7%</text>
<text x="505.7" y="481.7" font-size="10" fill="#7c7c7c" text-anchor="middle">42.0%</text>
<text x="515.7" y="510.7" font-size="10" fill="#7c7c7c" text-anchor="middle">13.1%</text>
<text x="498.7" y="521.7" font-size="10" fill="#7c7c7c" text-anchor="middle">1.2%</text>
<text x="593" y="505.7" font-size="10" fill="#7c7c7c" text-anchor="middle">18.8%</text>
<text x="612.5" y="478.2" font-size="10" fill="#7c7c7c" text-anchor="middle">46.6%</text>
<text x="736" y="483.7" font-size="10" fill="#7c7c7c" text-anchor="middle">48.6%</text>
<text x="729" y="505.7" font-size="10" fill="#7c7c7c" text-anchor="middle">18.3%</text>
<text x="816" y="484.7" font-size="10" fill="#7c7c7c" text-anchor="middle">14.6%</text>
<text x="806" y="523.7" font-size="10" fill="#7c7c7c" text-anchor="middle">0.7%</text>
<text x="846" y="541.2" font-size="10" fill="#7c7c7c" text-anchor="middle">-17.7%</text>
<text x="893.7" y="541.2" font-size="10" fill="#7c7c7c" text-anchor="middle">-17.7%</text>
<text x="902" y="491.2" font-size="10" fill="#7c7c7c" text-anchor="middle">8.2%</text>
<text x="932.7" y="519.2" font-size="10" fill="#7c7c7c" text-anchor="middle">5.1%</text>
<text x="951" y="466.7" font-size="10" fill="#7c7c7c" text-anchor="middle">32.5%</text>
<text x="975.5" y="462.5" font-size="10" fill="#7c7c7c" text-anchor="start">50%</text>
<text x="976" y="511" font-size="10" fill="#7c7c7c" text-anchor="start">0%</text>
<text x="975.5" y="561" font-size="10" fill="#7c7c7c" text-anchor="start">-50%</text>
<circle cx="32.5" cy="603" r="4.9" fill="#fd625e"/>
<text x="39.5" y="607.7" font-size="12" fill="#555" text-anchor="start">電子零組件存貨周轉天數</text>
<circle cx="180.5" cy="603" r="4.9" fill="#374649"/>
<text x="187.5" y="607.7" font-size="12" fill="#555" text-anchor="start">存貨週轉天數年比</text>
<line x1="133.25" y1="623.7" x2="133.25" y2="732.5" stroke="#6c6c6c" stroke-width="1.6"/>
<text x="133.25" y="747" font-size="10" fill="#7c7c7c" text-anchor="middle">2017年</text>
<line x1="248.75" y1="623.7" x2="248.75" y2="732.5" stroke="#6c6c6c" stroke-width="1.6"/>
<text x="248.75" y="747" font-size="10" fill="#7c7c7c" text-anchor="middle">2018年</text>
<line x1="364.25" y1="623.7" x2="364.25" y2="732.5" stroke="#6c6c6c" stroke-width="1.6"/>
<text x="364.25" y="747" font-size="10" fill="#7c7c7c" text-anchor="middle">2019年</text>
<line x1="479.75" y1="623.7" x2="479.75" y2="732.5" stroke="#6c6c6c" stroke-width="1.6"/>
<text x="479.75" y="747" font-size="10" fill="#7c7c7c" text-anchor="middle">2020年</text>
<line x1="595.25" y1="623.7" x2="595.25" y2="732.5" stroke="#6c6c6c" stroke-width="1.6"/>
<text x="595.25" y="747" font-size="10" fill="#7c7c7c" text-anchor="middle">2021年</text>
<line x1="710.75" y1="623.7" x2="710.75" y2="732.5" stroke="#6c6c6c" stroke-width="1.6"/>
<text x="710.75" y="747" font-size="10" fill="#7c7c7c" text-anchor="middle">2022年</text>
<line x1="826.25" y1="623.7" x2="826.25" y2="732.5" stroke="#6c6c6c" stroke-width="1.6"/>
<text x="826.25" y="747" font-size="10" fill="#7c7c7c" text-anchor="middle">2023年</text>
<rect x="34.1" y="653.75" width="22.3" height="46.75" fill="#fd625e"/>
<rect x="62.98" y="655.25" width="22.3" height="45.25" fill="#fd625e"/>
<rect x="91.86" y="659.5" width="22.3" height="41" fill="#fd625e"/>
<rect x="120.74" y="664.5" width="22.3" height="36" fill="#fd625e"/>
<rect x="149.62" y="656.25" width="22.3" height="44.25" fill="#fd625e"/>
<rect x="178.5" y="657" width="22.3" height="43.5" fill="#fd625e"/>
<rect x="207.38" y="657" width="22.3" height="43.5" fill="#fd625e"/>
<rect x="236.26" y="662.5" width="22.3" height="38" fill="#fd625e"/>
<rect x="265.14" y="647.75" width="22.3" height="52.75" fill="#fd625e"/>
<rect x="294.02" y="647.75" width="22.3" height="52.75" fill="#fd625e"/>
<rect x="322.9" y="650.75" width="22.3" height="49.75" fill="#fd625e"/>
<rect x="351.78" y="657.25" width="22.3" height="43.25" fill="#fd625e"/>
<rect x="380.66" y="642.25" width="22.3" height="58.25" fill="#fd625e"/>
<rect x="409.54" y="648" width="22.3" height="52.5" fill="#fd625e"/>
<rect x="438.42" y="652.75" width="22.3" height="47.75" fill="#fd625e"/>
<rect x="467.3" y="659.75" width="22.3" height="40.75" fill="#fd625e"/>
<rect x="496.18" y="642.5" width="22.3" height="58" fill="#fd625e"/>
<rect x="525.06" y="650.75" width="22.3" height="49.75" fill="#fd625e"/>
<rect x="553.94" y="651.75" width="22.3" height="48.75" fill="#fd625e"/>
<rect x="582.82" y="659.75" width="22.3" height="40.75" fill="#fd625e"/>
<rect x="611.7" y="645.75" width="22.3" height="54.75" fill="#fd625e"/>
<rect x="640.58" y="645.75" width="22.3" height="54.75" fill="#fd625e"/>
<rect x="669.46" y="646.5" width="22.3" height="54" fill="#fd625e"/>
<rect x="698.34" y="651.75" width="22.3" height="48.75" fill="#fd625e"/>
<rect x="727.22" y="636.5" width="22.3" height="64" fill="#fd625e"/>
<rect x="756.1" y="632.2" width="22.3" height="68.3" fill="#fd625e"/>
<rect x="784.98" y="638.1" width="22.3" height="62.4" fill="#fd625e"/>
<rect x="813.86" y="638" width="22.3" height="62.5" fill="#fd625e"/>
<rect x="842.74" y="628.4" width="22.3" height="72.1" fill="#fd625e"/>
<rect x="871.62" y="631.3" width="22.3" height="69.2" fill="#fd625e"/>
<rect x="900.5" y="640.2" width="22.3" height="60.3" fill="#fd625e"/>
<polyline fill="none" stroke="#374649" stroke-width="1.9" stroke-linejoin="round" stroke-linecap="round" points="45.25,682.5 74.13,706.2 103.01,726.7 131.89,714.5 160.77,715 189.65,710 218.53,687 247.41,689.5 276.29,655.2 305.17,652.5 334.05,669 362.93,673.7 391.81,672.5 420.69,702.5 449.57,709.2 478.45,713.2 507.33,703 536.21,715.7 565.09,697.2 593.97,700 622.85,716.7 651.73,673.2 680.61,670.5 709.49,659 738.37,653 767.25,632.3 796.13,657 825.01,630.2 853.89,659 882.77,695.5 911.65,713"/>
<text transform="translate(45 674.2) scale(0.86 1)" font-size="10.3" font-weight="bold" fill="#303030" text-anchor="middle">3</text>
<text transform="translate(103 719.7) scale(0.86 1)" font-size="10.3" font-weight="bold" fill="#303030" text-anchor="middle">-5</text>
<text transform="translate(132.5 707.4) scale(0.86 1)" font-size="10.3" font-weight="bold" fill="#303030" text-anchor="middle">-3</text>
<text transform="translate(160.7 731.7) scale(0.86 1)" font-size="10.3" font-weight="bold" fill="#303030" text-anchor="middle">-3</text>
<text transform="translate(218.7 679.4) scale(0.86 1)" font-size="10.3" font-weight="bold" fill="#303030" text-anchor="middle">3</text>
<text transform="translate(247.5 706.2) scale(0.86 1)" font-size="10.3" font-weight="bold" fill="#303030" text-anchor="middle">2</text>
<text transform="translate(305 644.7) scale(0.86 1)" font-size="10.3" font-weight="bold" fill="#303030" text-anchor="middle">9</text>
<text transform="translate(363 689.7) scale(0.86 1)" font-size="10.3" font-weight="bold" fill="#303030" text-anchor="middle">5</text>
<text transform="translate(392 664.7) scale(0.86 1)" font-size="10.3" font-weight="bold" fill="#303030" text-anchor="middle">5</text>
<text transform="translate(450 701.7) scale(0.86 1)" font-size="10.3" font-weight="bold" fill="#303030" text-anchor="middle">-2</text>
<text transform="translate(478.7 729.7) scale(0.86 1)" font-size="10.3" font-weight="bold" fill="#303030" text-anchor="middle">-2</text>
<text transform="translate(507.5 695.2) scale(0.86 1)" font-size="10.3" font-weight="bold" fill="#303030" text-anchor="middle">0</text>
<text transform="translate(536 732.4) scale(0.86 1)" font-size="10.3" font-weight="bold" fill="#303030" text-anchor="middle">-3</text>
<text transform="translate(565.5 688.7) scale(0.86 1)" font-size="10.3" font-weight="bold" fill="#303030" text-anchor="middle">1</text>
<text transform="translate(623 709.2) scale(0.86 1)" font-size="10.3" font-weight="bold" fill="#303030" text-anchor="middle">-3</text>
<text transform="translate(680.7 663.7) scale(0.86 1)" font-size="10.3" font-weight="bold" fill="#303030" text-anchor="middle">6</text>
<text transform="translate(710 651.7) scale(0.86 1)" font-size="10.3" font-weight="bold" fill="#303030" text-anchor="middle">8</text>
<text transform="translate(767 649.9) scale(0.86 1)" font-size="10.3" font-weight="bold" fill="#303030" text-anchor="middle">13</text>
<text transform="translate(796.3 674.7) scale(0.86 1)" font-size="10.3" font-weight="bold" fill="#303030" text-anchor="middle">8</text>
<text transform="translate(825.4 646.4) scale(0.86 1)" font-size="10.3" font-weight="bold" fill="#303030" text-anchor="middle">13</text>
<text transform="translate(882.7 686.4) scale(0.86 1)" font-size="10.3" font-weight="bold" fill="#303030" text-anchor="middle">1</text>
<text transform="translate(913 729.5) scale(0.86 1)" font-size="10.3" font-weight="bold" fill="#303030" text-anchor="middle">-2</text>
<text x="933.8" y="651.5" font-size="10" fill="#7c7c7c" text-anchor="start">10</text>
<text x="933.8" y="706" font-size="10" fill="#7c7c7c" text-anchor="start">0</text>
<rect x="906.4" y="67" width="100.4" height="676" fill="#000" fill-opacity="0.098"/>
<text id="t22" y="76" fill="#ff0000" stroke="#ff0000" stroke-width="0.35" font-weight="500"><tspan x="909.3" font-size="26">已漲</tspan><tspan x="962" font-size="28.3" font-weight="400">22%</tspan></text>
<text id="t3q" y="250" fill="#ff0000" stroke="#ff0000" stroke-width="0.35" font-weight="500"><tspan x="817" font-size="28" font-weight="400">3Q23</tspan><tspan x="887.8" font-size="26.2">財報公布</tspan></text>
<line x1="904.4" y1="121.1" x2="980" y2="99.5" stroke="#ff0000" stroke-width="5"/>
<polygon points="992,96.2 976.3,92.3 981.6,107" fill="#ff0000"/>
<rect x="903.5" y="197" width="5.5" height="28.2" fill="#ff0000"/>
<polygon points="906.2,182.8 897.8,198.8 914.6,198.8" fill="#ff0000"/>
<rect x="908.3" y="737" width="5.7" height="25" fill="#ff0000"/>
<polygon points="911.1,721.9 902.5,738.2 919.8,738.2" fill="#ff0000"/>
<text x="601" y="783.5" font-size="18.1" fill="#5f5f5f" text-anchor="start" font-weight="500" id="foot">資料來源：公開資訊觀測站、國發會、FinSight 整理</text>
</svg>
</body></html>
